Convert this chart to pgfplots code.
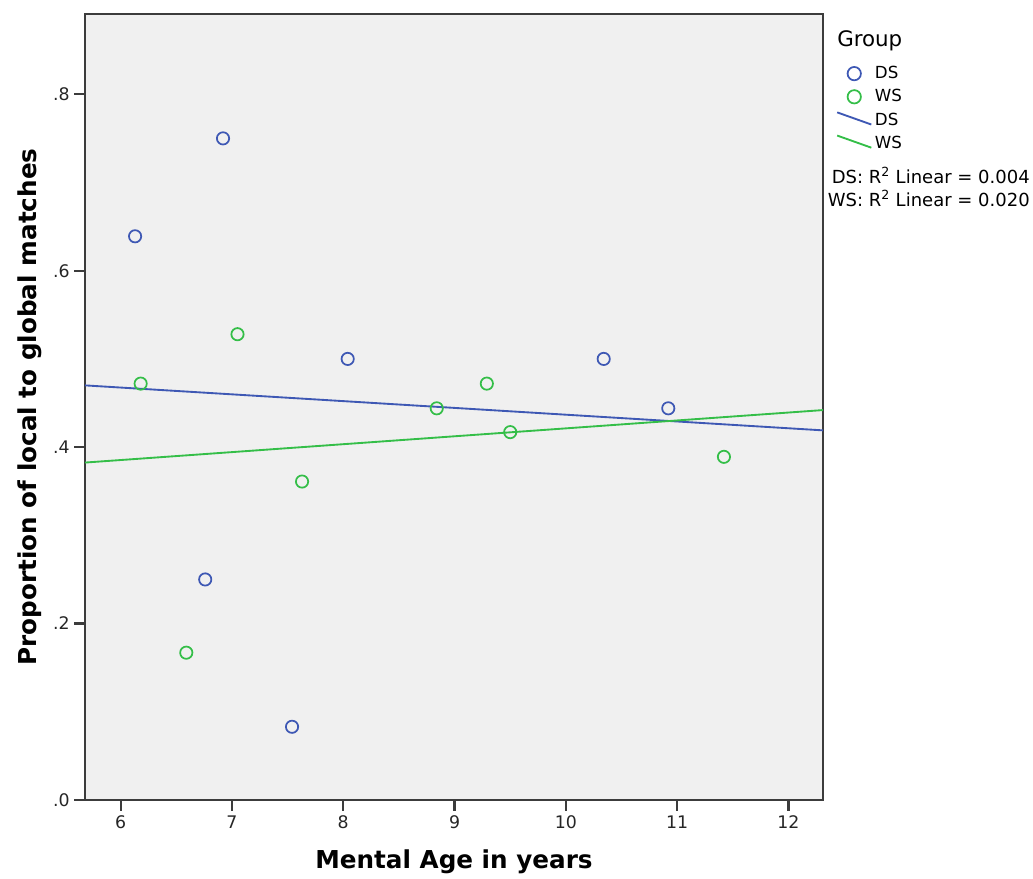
\documentclass[border=0pt]{standalone}
\usepackage{pgfplots}
\pgfplotsset{compat=1.18}
\usepackage{fontspec}
\setmainfont{DejaVu Sans}
\definecolor{dsblue}{RGB}{62,88,180}
\definecolor{wsgreen}{RGB}{52,190,72}
\definecolor{bgc}{RGB}{240,240,240}
\definecolor{axc}{RGB}{60,60,60}
\pgfplotsset{
  circleleg/.style={legend image code/.code={\draw[mark repeat=2,mark phase=2,##1, mark size=5pt] plot coordinates {(0cm,0cm) (0.45cm,0cm) (0.9cm,0cm)};}},
  lineleg/.style={legend image code/.code={\draw[##1] (0cm,0.2cm) -- (0.9cm,-0.12cm);}},
}
\begin{document}
\begin{tikzpicture}
\path[use as bounding box] (0,0) rectangle (774.75pt,659.25pt);
\begin{axis}[
  at={(63.75pt,59.25pt)}, anchor=south west,
  scale only axis, width=553.5pt, height=589.5pt,
  xmin=5.68, xmax=12.31, ymin=0, ymax=0.891,
  xtick={6,7,8,9,10,11,12},
  ytick={0,0.2,0.4,0.6,0.8},
  yticklabels={.0,.2,.4,.6,.8},
  xtick pos=bottom, ytick pos=left,
  tick align=outside, major tick length=8pt,
  major tick style={draw=axc, line width=1.6pt},
  every tick/.append style={draw=axc, line width=1.6pt},
  axis line style={draw=axc, line width=1.7pt},
  axis background/.style={fill=bgc},
  /pgf/number format/assume math mode=true,
  ticklabel style={font=\fontsize{13}{15}\selectfont, text=black!85},
  xlabel={Mental Age in years},
  ylabel={Proportion of local to global matches},
  label style={font=\fontsize{18.5}{22}\selectfont\bfseries},
  xlabel style={at={(axis description cs:0.5,-0.079)}, anchor=center},
  ylabel style={at={(axis description cs:-0.0745,0.5)}, anchor=center},
  legend style={at={(axis description cs:1.0176,0.937)}, anchor=north west,
    draw=none, fill=none, inner sep=0pt, font=\fontsize{12.5}{14}\selectfont,
    row sep=2.6pt, cells={anchor=west}},
  legend cell align=left,
]
\addplot[only marks, mark=o, mark size=4.6pt, dsblue, mark options={line width=1.3pt}, circleleg]
coordinates {
(6.13,0.639) (6.92,0.750) (6.76,0.250) (7.54,0.083) (8.04,0.500) (10.34,0.500) (10.92,0.444)
};
\addlegendentry{DS}
\addplot[only marks, mark=o, mark size=4.6pt, wsgreen, mark options={line width=1.3pt}, circleleg]
coordinates {
(6.18,0.472) (6.59,0.167) (7.05,0.528) (7.63,0.361) (8.84,0.444) (9.29,0.472) (9.50,0.417) (11.42,0.389)
};
\addlegendentry{WS}
\addplot[dsblue, line width=1.4pt, no markers, lineleg]
coordinates {(5.68,0.470) (12.31,0.419)};
\addlegendentry{DS}
\addplot[wsgreen, line width=1.4pt, no markers, lineleg]
coordinates {(5.68,0.3825) (12.31,0.442)};
\addlegendentry{WS}
\end{axis}
\node[anchor=west, inner sep=0pt, font=\fontsize{16}{18}\selectfont] at (627.75pt,628.5pt) {Group};
\node[anchor=east, inner sep=0pt, font=\fontsize{13.5}{15}\selectfont] at (772.5pt,528pt) {DS: R\textsuperscript{2} Linear = 0.004};
\node[anchor=east, inner sep=0pt, font=\fontsize{13.5}{15}\selectfont] at (772.5pt,510.75pt) {WS: R\textsuperscript{2} Linear = 0.020};
\end{tikzpicture}
\end{document}
